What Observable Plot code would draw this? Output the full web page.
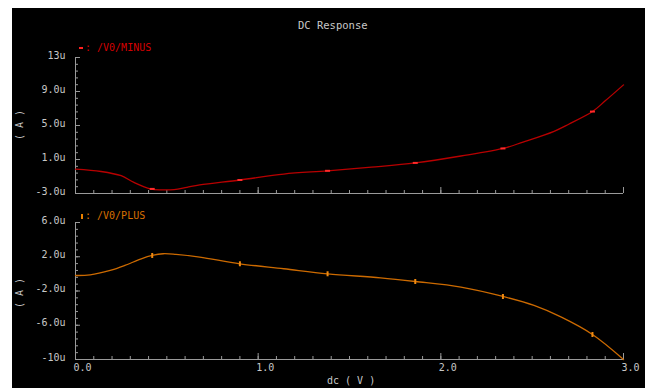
<!DOCTYPE html>
<html><head><meta charset="utf-8">
<script src="https://cdn.jsdelivr.net/npm/d3@7"></script>
<script src="https://cdn.jsdelivr.net/npm/@observablehq/plot@0.6"></script>
<style>
html,body{margin:0;padding:0;background:#fff;width:645px;height:388px;overflow:hidden;}
#frame{position:absolute;left:12px;top:8px;width:633px;height:380px;background:#000;}
.p{position:absolute;left:0;}
.t{position:absolute;font-family:"DejaVu Sans Mono",monospace;font-size:10px;color:#c8c8c8;white-space:nowrap;line-height:12px;}
.rot{transform:translate(-50%,-50%) rotate(-90deg);}
.mk{display:inline-block;vertical-align:middle;}
</style></head><body>
<div id="frame"></div>
<div id="p1" class="p" style="top:0"></div>
<div id="p2" class="p" style="top:200px"></div>
<div class="t" style="left:298px;top:19px;font-size:10.5px;">DC Response</div>
<div class="t" style="left:79px;top:42px;color:#d40000;"><span style="display:inline-block;width:6px;"><span class="mk" style="width:4px;height:2px;background:#ff2020;"></span></span>: /V0/MINUS</div>
<div class="t" style="left:79px;top:210px;color:#d87000;"><span style="display:inline-block;width:6px;"><span class="mk" style="width:2px;height:5px;background:#e88000;margin-left:2px;"></span></span>: /V0/PLUS</div>
<div class="t rot" style="left:20px;top:125px;">( A )</div>
<div class="t rot" style="left:20px;top:293px;">( A )</div>
<div class="t" style="left:327px;top:375px;">dc ( V )</div>
<script>
// ---- data ----
const minusX = [0, 0.14, 0.25, 0.32, 0.41, 0.47, 0.54, 0.61, 0.68, 0.90, 1.14, 1.38, 1.62, 1.86, 2.11, 2.34, 2.45, 2.62, 2.70, 2.83, 2.90, 3.0];
const minusY = [-0.13, -0.41, -0.91, -1.69, -2.45, -2.57, -2.54, -2.27, -1.99, -1.41, -0.71, -0.33, 0.10, 0.60, 1.41, 2.30, 3.05, 4.32, 5.15, 6.64, 7.90, 9.78];
const plusX = [0, 0.08, 0.19, 0.27, 0.36, 0.42, 0.48, 0.55, 0.68, 0.90, 1.14, 1.38, 1.67, 1.86, 2.11, 2.34, 2.51, 2.66, 2.83, 3.0];
const plusY = [-0.19, -0.12, 0.40, 0.98, 1.76, 2.15, 2.35, 2.27, 1.95, 1.18, 0.60, 0.01, -0.46, -0.89, -1.55, -2.64, -3.69, -5.06, -7.08, -10.0];
const markerX = [0.42, 0.90, 1.38, 1.86, 2.34, 2.83];
const minusMarkY = [-2.46, -1.41, -0.33, 0.60, 2.30, 6.64];
const plusMarkY = [2.15, 1.18, 0.01, -0.89, -2.64, -7.08];
const topTicks = [-3, 1, 5, 9, 13];
const topTickLabels = ["-3.0u", "1.0u", "5.0u", "9.0u", "13u"];
const botTicks = [-10, -6, -2, 2, 6];
const botTickLabels = ["-10u", "-6.0u", "-2.0u", "2.0u", "6.0u"];
const xTicks = [0, 1, 2, 3];
const xTickLabels = ["0.0", "1.0", "2.0", "3.0"];

const minusData = minusX.map((x, i) => ({x, y: minusY[i]}));
const plusData = plusX.map((x, i) => ({x, y: plusY[i]}));
const minusMarks = markerX.map((x, i) => ({x, y: minusMarkY[i]}));
const plusMarks = markerX.map((x, i) => ({x, y: plusMarkY[i]}));

const axisGray = "#9a9a9a";
const textGray = "#c8c8c8";
const hBar = {draw(ctx) { ctx.rect(-2.5, -1, 5, 2); }};
const vBar = {draw(ctx) { ctx.rect(-1, -2.5, 2, 5); }};

function panel({height, marginTop, marginBottom, domain, ticks, tickLabels, data, marks, color, markColor, symbol, showX}) {
  const minor = d3.range(0, 21).map(k => domain[0] + k * (domain[1] - domain[0]) / 20);
  const xMinor = d3.range(0, 31).map(k => k / 10);
  const m = [
    Plot.ruleX([0], {stroke: axisGray}),
    Plot.ruleY([domain[0]], {stroke: axisGray}),
    Plot.axisY(minor, {tickSize: -3, tickFormat: () => "", stroke: axisGray}),
    Plot.axisY(ticks, {tickSize: -5, tickFormat: () => "", stroke: axisGray}),
    Plot.axisY(ticks, {tickSize: 0, tickPadding: 10, fill: textGray, dy: -2,
      tickFormat: d => tickLabels[ticks.indexOf(d)]}),
    Plot.axisX(xMinor, {tickSize: -3, tickFormat: () => "", stroke: axisGray}),
    Plot.axisX(xTicks, {tickSize: -6, tickFormat: () => "", stroke: axisGray}),
    Plot.line(data, {x: "x", y: "y", stroke: color, strokeWidth: 1.3, curve: "catmull-rom"}),
    Plot.dot(marks, {x: "x", y: "y", fill: markColor, stroke: null, symbol: symbol, r: 2})
  ];
  if (showX) m.push(Plot.axisX(xTicks, {tickSize: 0, tickPadding: 4, fill: textGray, textAnchor: "start", dx: -2,
      tickFormat: d => xTickLabels[xTicks.indexOf(d)]}));
  return Plot.plot({
    width: 645, height, marginLeft: 75, marginRight: 22, marginTop, marginBottom,
    style: {background: "transparent", fontFamily: "DejaVu Sans Mono, monospace", fontSize: "10px", color: textGray},
    x: {domain: [0, 3], axis: null, label: null},
    y: {domain, axis: null, label: null},
    marks: m
  });
}

document.getElementById("p1").append(panel({
  height: 200, marginTop: 57, marginBottom: 7, domain: [-3, 13], ticks: topTicks, tickLabels: topTickLabels,
  data: minusData, marks: minusMarks, color: "#b80000", markColor: "#ff2a2a", symbol: hBar, showX: false
}));
document.getElementById("p2").append(panel({
  height: 188, marginTop: 22, marginBottom: 29, domain: [-10, 6], ticks: botTicks, tickLabels: botTickLabels,
  data: plusData, marks: plusMarks, color: "#cc6a00", markColor: "#f08a10", symbol: vBar, showX: true
}));
</script>
</body></html>
